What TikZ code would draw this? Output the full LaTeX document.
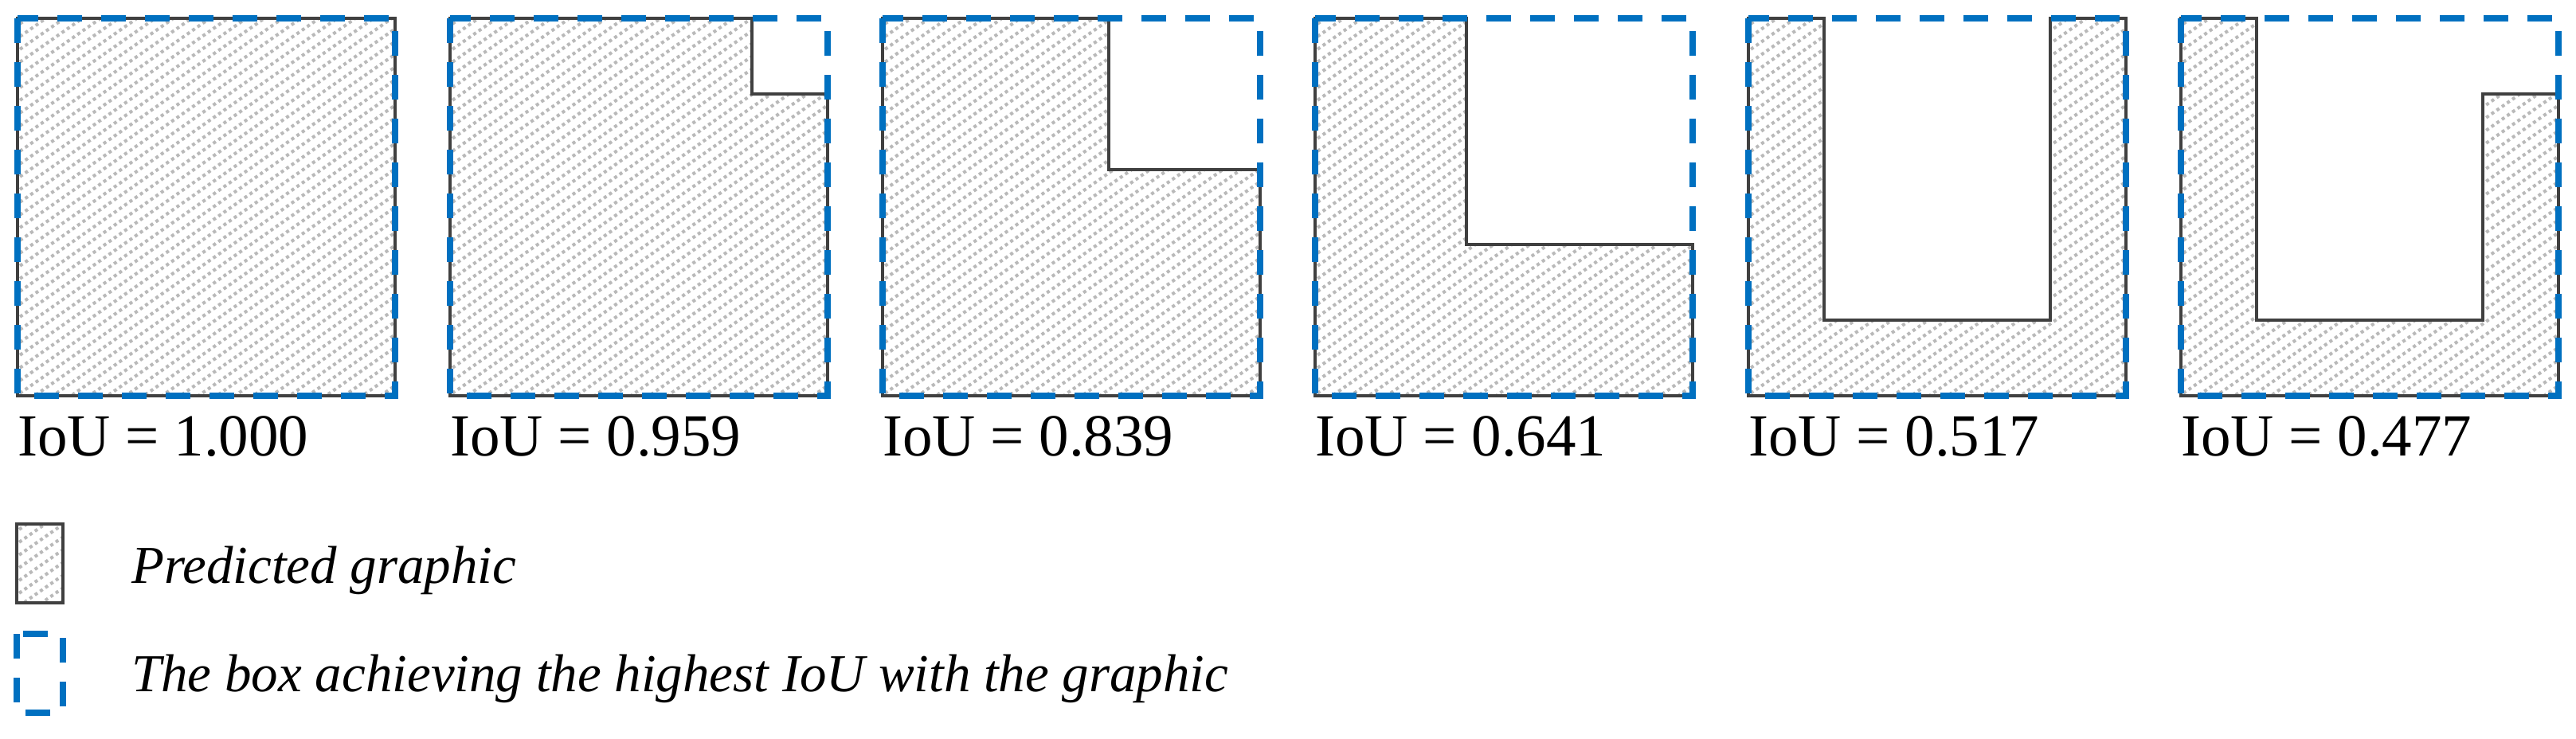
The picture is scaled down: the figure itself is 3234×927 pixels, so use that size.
\documentclass[tikz,border=0pt]{standalone}
\usepackage{fontspec}
\setmainfont{Liberation Serif}
\definecolor{boxblue}{RGB}{0,112,192}
\definecolor{outl}{RGB}{64,64,64}
\definecolor{hatchgray}{RGB}{185,185,185}
\tikzset{
  hatchline/.style={hatchgray, line width=4pt, dash pattern=on 4pt off 4pt},
  outline/.style={outl, line width=4pt, line join=miter},
  bestbox/.style={boxblue, line width=7.5pt, dash pattern=on 31pt off 24pt},
  lab/.style={anchor=base west, inner sep=0pt, font=\fontsize{75}{90}\selectfont},
  leg/.style={anchor=base west, inner sep=0pt, font=\fontsize{67}{80}\selectfont\itshape},
}
\newcommand\myhatch[1]{%
  \begin{scope}
    \clip #1;
    \foreach \k in {0,...,60} \draw[hatchline] (-10,\k*16) -- ++(600,-420);
  \end{scope}}
\begin{document}
\begin{tikzpicture}[x=1pt,y=-1pt]
\useasboundingbox[fill=white] (0,0) rectangle (3234,927);
% panel 1
\begin{scope}[shift={(22,23)}]
  \myhatch{(0,0) rectangle (474,474)}
  \draw[outline] (0,0) rectangle (474,474);
  \draw[bestbox] (0,0) rectangle (474,474);
\end{scope}
% panel 2
\begin{scope}[shift={(565,23)}]
  \myhatch{(0,0) -- (379.2,0) -- (379.2,94.8) -- (474,94.8) -- (474,474) -- (0,474) -- cycle}
  \draw[outline] (0,0) -- (379.2,0) -- (379.2,94.8) -- (474,94.8) -- (474,474) -- (0,474) -- cycle;
  \draw[bestbox] (0,0) rectangle (474,474);
\end{scope}
% panel 3
\begin{scope}[shift={(1108,23)}]
  \myhatch{(0,0) -- (284.4,0) -- (284.4,189.6) -- (474,189.6) -- (474,474) -- (0,474) -- cycle}
  \draw[outline] (0,0) -- (284.4,0) -- (284.4,189.6) -- (474,189.6) -- (474,474) -- (0,474) -- cycle;
  \draw[bestbox] (0,0) rectangle (474,474);
\end{scope}
% panel 4
\begin{scope}[shift={(1651,23)}]
  \myhatch{(0,0) -- (189.6,0) -- (189.6,284.4) -- (474,284.4) -- (474,474) -- (0,474) -- cycle}
  \draw[outline] (0,0) -- (189.6,0) -- (189.6,284.4) -- (474,284.4) -- (474,474) -- (0,474) -- cycle;
  \draw[bestbox] (0,0) rectangle (474,474);
\end{scope}
% panel 5
\begin{scope}[shift={(2195,23)}]
  \myhatch{(0,0) -- (94.8,0) -- (94.8,379.2) -- (379.2,379.2) -- (379.2,0) -- (474,0) -- (474,474) -- (0,474) -- cycle}
  \draw[outline] (0,0) -- (94.8,0) -- (94.8,379.2) -- (379.2,379.2) -- (379.2,0) -- (474,0) -- (474,474) -- (0,474) -- cycle;
  \draw[bestbox] (0,0) rectangle (474,474);
\end{scope}
% panel 6
\begin{scope}[shift={(2738,23)}]
  \myhatch{(0,0) -- (94.8,0) -- (94.8,379.2) -- (379.2,379.2) -- (379.2,94.8) -- (474,94.8) -- (474,474) -- (0,474) -- cycle}
  \draw[outline] (0,0) -- (94.8,0) -- (94.8,379.2) -- (379.2,379.2) -- (379.2,94.8) -- (474,94.8) -- (474,474) -- (0,474) -- cycle;
  \draw[bestbox] (0,0) rectangle (474,474);
\end{scope}
% labels
\node[lab] (l1) at (22,572) {IoU = 1.000};
\node[lab] (l2) at (565,572) {IoU = 0.959};
\node[lab] (l3) at (1108,572) {IoU = 0.839};
\node[lab] (l4) at (1651,572) {IoU = 0.641};
\node[lab] (l5) at (2195,572) {IoU = 0.517};
\node[lab] (l6) at (2738,572) {IoU = 0.477};
% legend
\begin{scope}[shift={(21,658)}]
  \myhatch{(0,0) rectangle (58,99)}
  \draw[outline] (0,0) rectangle (58,99);
\end{scope}
\draw[bestbox] (21,796) rectangle (79,895);
\node[leg] (t1) at (165,732) {Predicted graphic};
\node[leg] (t2) at (165,868) {The box achieving the highest IoU with the graphic};
\end{tikzpicture}
\end{document}
